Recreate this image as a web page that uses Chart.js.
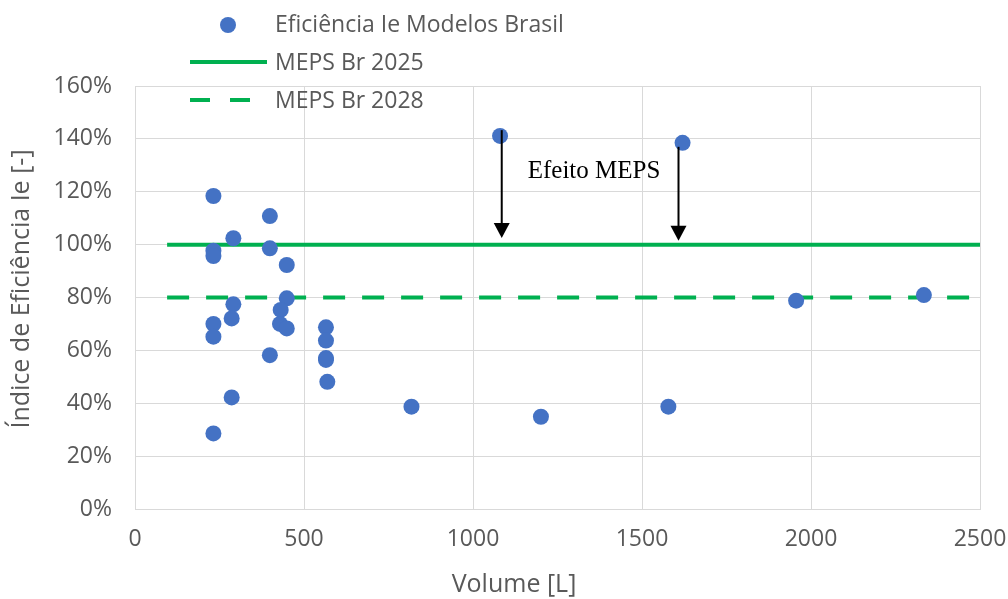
<!DOCTYPE html>
<html>
<head>
<meta charset="utf-8">
<script src="https://cdn.jsdelivr.net/npm/chart.js@4"></script>
<style>
  html, body { margin: 0; padding: 0; background: #fff; }
  #wrap { width: 1008px; height: 599px; }
</style>
</head>
<body>
<div id="wrap"><canvas id="chart"></canvas></div>
<script>
// Volume [L] and efficiency index [%] per model
const volumes = [232, 399, 291, 232, 232, 399, 449, 449, 291, 431, 286, 232, 429, 449, 232,
                 565, 565, 565, 565, 569, 399, 286, 232, 1080, 1620, 818, 1201, 1578, 1956, 2334];
const efficiency = [118.4, 110.8, 102.4, 97.7, 95.7, 98.6, 92.3, 79.7, 77.4, 75.3, 72.1, 70.0, 70.0, 68.3, 65.2,
                    68.7, 63.7, 57.1, 56.4, 48.1, 58.2, 42.2, 28.6, 141.1, 138.5, 38.7, 34.9, 38.7, 78.8, 80.9];

const mepsVolume = [95, 2500];
const meps2025 = [100, 100];
const meps2028 = [80, 80];

// "Efeito MEPS" arrows (data units)
const arrowVolume = [1085, 1608];
const arrowFrom = [143.3, 137.0];
const arrowTo = [102.5, 101.5];
const noteText = "Efeito MEPS";
const notePos = { x: 1358, y: 127.5 };

const xTicks = [0, 500, 1000, 1500, 2000, 2500];
const yTicks = [0, 20, 40, 60, 80, 100, 120, 140, 160];

const labels = ["Eficiência Ie Modelos Brasil", "MEPS Br 2025", "MEPS Br 2028"];
const xTitle = "Volume [L]";
const yTitle = "Índice de Eficiência Ie [-]";

const blue = "#4472C4";
const green = "#00B050";
const textGrey = "#595959";
const gridGrey = "#d9d9d9";
const font = "'Open Sans'";

const toPoints = (xs, ys) => xs.map((x, i) => ({ x: x, y: ys[i] }));

const extras = {
    id: "extras",
    afterDraw(chart) {
        const ctx = chart.ctx;
        const xs = chart.scales.x;
        const ys = chart.scales.y;
        ctx.save();

        // arrows
        ctx.strokeStyle = "#000";
        ctx.fillStyle = "#000";
        ctx.lineWidth = 2;
        arrowVolume.forEach((v, i) => {
            const px = xs.getPixelForValue(v);
            const top = ys.getPixelForValue(arrowFrom[i]);
            const tip = ys.getPixelForValue(arrowTo[i]);
            ctx.beginPath();
            ctx.moveTo(px, top);
            ctx.lineTo(px, tip - 12);
            ctx.stroke();
            ctx.beginPath();
            ctx.moveTo(px - 8, tip - 15);
            ctx.lineTo(px + 8, tip - 15);
            ctx.lineTo(px, tip);
            ctx.closePath();
            ctx.fill();
        });

        ctx.font = "25px 'Liberation Serif'";
        ctx.textAlign = "center";
        ctx.textBaseline = "middle";
        ctx.fillText(noteText, xs.getPixelForValue(notePos.x), ys.getPixelForValue(notePos.y));

        // legend
        ctx.fillStyle = blue;
        ctx.beginPath();
        ctx.arc(228, 25, 8, 0, Math.PI * 2);
        ctx.fill();
        ctx.strokeStyle = green;
        ctx.lineWidth = 4;
        ctx.beginPath();
        ctx.moveTo(190, 62);
        ctx.lineTo(267, 62);
        ctx.stroke();
        ctx.setLineDash([20, 20]);
        ctx.beginPath();
        ctx.moveTo(190, 100);
        ctx.lineTo(250, 100);
        ctx.stroke();
        ctx.setLineDash([]);

        ctx.fillStyle = textGrey;
        ctx.font = "23px " + font;
        ctx.textAlign = "left";
        ctx.fillText(labels[0], 275, 25);
        ctx.fillText(labels[1], 275, 63);
        ctx.fillText(labels[2], 275, 101);

        // axis titles
        ctx.font = "25px " + font;
        ctx.textAlign = "center";
        ctx.fillText(xTitle, 514, 585);
        ctx.translate(22, 289);
        ctx.rotate(-Math.PI / 2);
        ctx.fillText(yTitle, 0, 0);
        ctx.restore();
    }
};

new Chart(document.getElementById("chart"), {
    type: "scatter",
    data: {
        datasets: [
            {
                label: labels[0],
                data: toPoints(volumes, efficiency),
                backgroundColor: blue,
                borderWidth: 0,
                pointRadius: 8
            },
            {
                label: labels[1],
                type: "line",
                data: toPoints(mepsVolume, meps2025),
                borderColor: green,
                borderWidth: 4,
                pointRadius: 0
            },
            {
                label: labels[2],
                type: "line",
                data: toPoints(mepsVolume, meps2028),
                borderColor: green,
                borderWidth: 4,
                borderDash: [22, 17],
                pointRadius: 0
            }
        ]
    },
    options: {
        responsive: true,
        maintainAspectRatio: false,
        animation: false,
        events: [],
        layout: { padding: { top: 86, right: 28, left: 0, bottom: 0 } },
        plugins: {
            legend: { display: false },
            tooltip: { enabled: false }
        },
        scales: {
            x: {
                type: "linear",
                min: 0,
                max: 2500,
                afterBuildTicks: (s) => { s.ticks = xTicks.map(v => ({ value: v })); },
                afterFit: (s) => {
                    s.height = 90;
                    s.paddingLeft = 0;
                    s.paddingRight = 0;
                },
                grid: { color: gridGrey, drawTicks: false },
                border: { color: gridGrey },
                ticks: {
                    color: textGrey,
                    padding: 17,
                    font: { family: "Open Sans", size: 23 },
                    maxRotation: 0,
                    callback: (v) => String(v)
                }
            },
            y: {
                min: 0,
                max: 160,
                afterBuildTicks: (s) => { s.ticks = yTicks.map(v => ({ value: v })); },
                afterFit: (s) => { s.width = 135; },
                grid: { color: gridGrey, drawTicks: false },
                border: { color: gridGrey },
                ticks: {
                    color: textGrey,
                    padding: 23,
                    font: { family: "Open Sans", size: 23 },
                    callback: (v) => v + "%"
                }
            }
        }
    },
    plugins: [extras]
});
</script>
</body>
</html>
